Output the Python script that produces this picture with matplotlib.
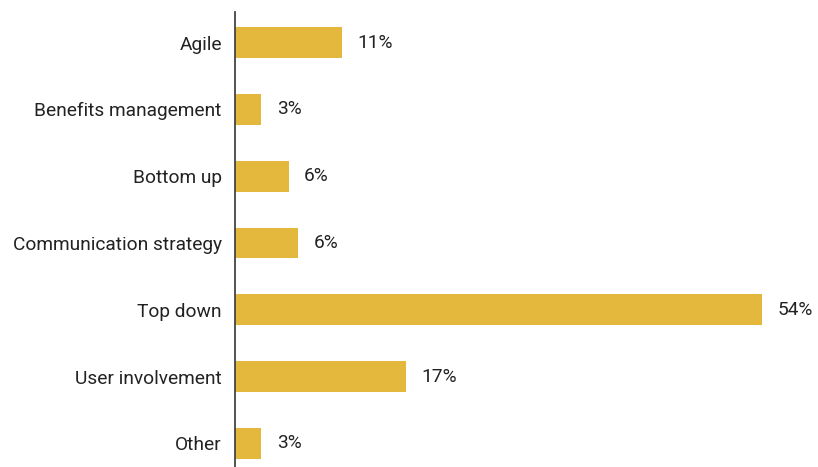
import matplotlib.pyplot as plt

# -------------------------- data --------------------------
categories = ['Agile', 'Benefits management', 'Bottom up', 'Communication strategy',
              'Top down', 'User involvement', 'Other']
values = [11.0, 2.7, 5.5, 6.5, 54.0, 17.5, 2.7]
value_labels = ['11%', '3%', '6%', '6%', '54%', '17%', '3%']

plt.rcParams['font.family'] = ['Roboto', 'DejaVu Sans']

# -------------------------- drawing --------------------------
fig = plt.figure(figsize=(8.18, 4.67), dpi=100)
ax = fig.add_axes([235 / 818, 0, 583 / 818, 455 / 467])

pos = list(range(len(categories)))
ax.barh(pos, values, height=0.46, color='#E3B83C', zorder=2)

for p, v, lab in zip(pos, values, value_labels):
    ax.annotate(lab, xy=(v, p), xytext=(11, 0), textcoords='offset points',
                va='center', ha='left', fontsize=13.8, color='#222222')

ax.set_yticks(pos)
ax.set_yticklabels(categories, fontsize=13.8, color='#222222')
ax.tick_params(axis='y', length=0, pad=9.5)
ax.set_xticks([])

ax.set_xlim(0, 583 / 9.76)
ax.set_ylim(6.352, -0.457)

for s in ['top', 'right', 'bottom']:
    ax.spines[s].set_visible(False)
ax.spines['left'].set_color('#444444')
ax.spines['left'].set_linewidth(1.3)
ax.spines['left'].set_zorder(5)

fig.savefig('out.png', dpi=100)
